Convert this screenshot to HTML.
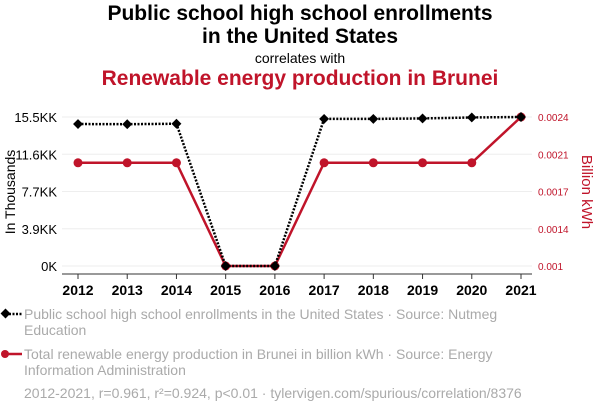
<!DOCTYPE html>
<html><head><meta charset="utf-8"><style>
body{margin:0;background:#fff;width:600px;height:414px;overflow:hidden;font-family:"Liberation Sans",sans-serif}
.t{position:absolute;left:0;width:600px;text-align:center}
.leg{position:absolute;left:24px;color:#aaa;font-size:14px;line-height:16px}
</style></head><body>
<div class="t" style="top:2px;font-size:21px;font-weight:bold;line-height:23px;color:#000">Public school high school enrollments<br>in the United States</div>
<div class="t" style="top:50px;font-size:14px">correlates with</div>
<div class="t" style="top:67px;font-size:21px;font-weight:bold;color:#c0142a">Renewable energy production in Brunei</div>
<svg id="c" width="600" height="414" style="position:absolute;left:0;top:0"></svg>
<div class="leg" style="top:306px">Public school high school enrollments in the United States · Source: Nutmeg<br>Education</div>
<div class="leg" style="top:346px">Total renewable energy production in Brunei in billion kWh · Source: Energy<br>Information Administration</div>
<div class="leg" style="top:385px">2012-2021, r=0.961, r²=0.924, p&lt;0.01 · tylervigen.com/spurious/correlation/8376</div>
<svg width="30" height="80" style="position:absolute;left:0;top:305px">
<line x1="2" y1="9" x2="22" y2="9" stroke="#000" stroke-width="2.5" stroke-dasharray="2,1.5"/><rect x="2" y="5" width="7" height="7" transform="rotate(45 5.5 8.5)" fill="#000"/>
<line x1="2" y1="49" x2="22" y2="49" stroke="#c0142a" stroke-width="2.5"/><circle cx="5" cy="49" r="4" fill="#c0142a"/>
</svg>
<script>
const years=[2012,2013,2014,2015,2016,2017,2018,2019,2020,2021];
const enroll=[14.77,14.75,14.8,0,0,15.3,15.3,15.35,15.45,15.5];
const energy=[0.00197,0.00197,0.00197,0.001,0.001,0.00197,0.00197,0.00197,0.00197,0.0024];
const leftTicks=["0K","3.9KK","7.7KK","11.6KK","15.5KK"];
const rightTicks=["0.001","0.0014","0.0017","0.0021","0.0024"];
const svg=document.getElementById('c');const NS='http://www.w3.org/2000/svg';
const x=i=>78+i*(521-78)/(years.length-1);
const yL=v=>266-v/15.5*149;
const yR=v=>266-(v-0.001)/0.0014*149;
function mk(t,a,p){const e=document.createElementNS(NS,t);for(const k in a)e.setAttribute(k,a[k]);(p||svg).appendChild(e);return e;}
leftTicks.forEach((t,i)=>{const y=266-i*149/4;
const g=mk('line',{x1:62,x2:532,y1:y,y2:y,stroke:'#eee'});
const l=mk('text',{x:57,y:y+5,'text-anchor':'end','font-size':13,fill:'#000'});l.textContent=t;
const r=mk('text',{x:538,y:y+4,'font-size':10,fill:'#c0142a'});r.textContent=rightTicks[i];});
const ax=mk('line',{x1:62,x2:532,y1:274,y2:274,stroke:'#333'});
years.forEach((yr,i)=>{const tk=mk('line',{x1:x(i),x2:x(i),y1:274,y2:279,stroke:'#333'});
const t=mk('text',{x:x(i),y:295,'text-anchor':'middle','font-size':14,'font-weight':'bold'});t.textContent=yr;});
const yl=mk('text',{transform:'translate(15,192) rotate(-90)','text-anchor':'middle','font-size':14});yl.textContent='In Thousands';
const yr2=mk('text',{transform:'translate(582,192) rotate(90)','text-anchor':'middle','font-size':15,fill:'#c0142a'});yr2.textContent='Billion kWh';
const rl=mk('polyline',{points:energy.map((v,i)=>x(i)+','+yR(v)).join(' '),fill:'none',stroke:'#c0142a','stroke-width':2.5});
energy.forEach((v,i)=>{const c=mk('circle',{cx:x(i),cy:yR(v),r:4.5,fill:'#c0142a'});});
const bl=mk('polyline',{points:enroll.map((v,i)=>x(i)+','+yL(v)).join(' '),fill:'none',stroke:'#000','stroke-width':2.5,'stroke-dasharray':'2,1.5'});
enroll.forEach((v,i)=>{const d=mk('rect',{x:x(i)-3.5,y:yL(v)-3.5,width:7,height:7,fill:'#000',transform:`rotate(45 ${x(i)} ${yL(v)})`});});
</script>
</body></html>
